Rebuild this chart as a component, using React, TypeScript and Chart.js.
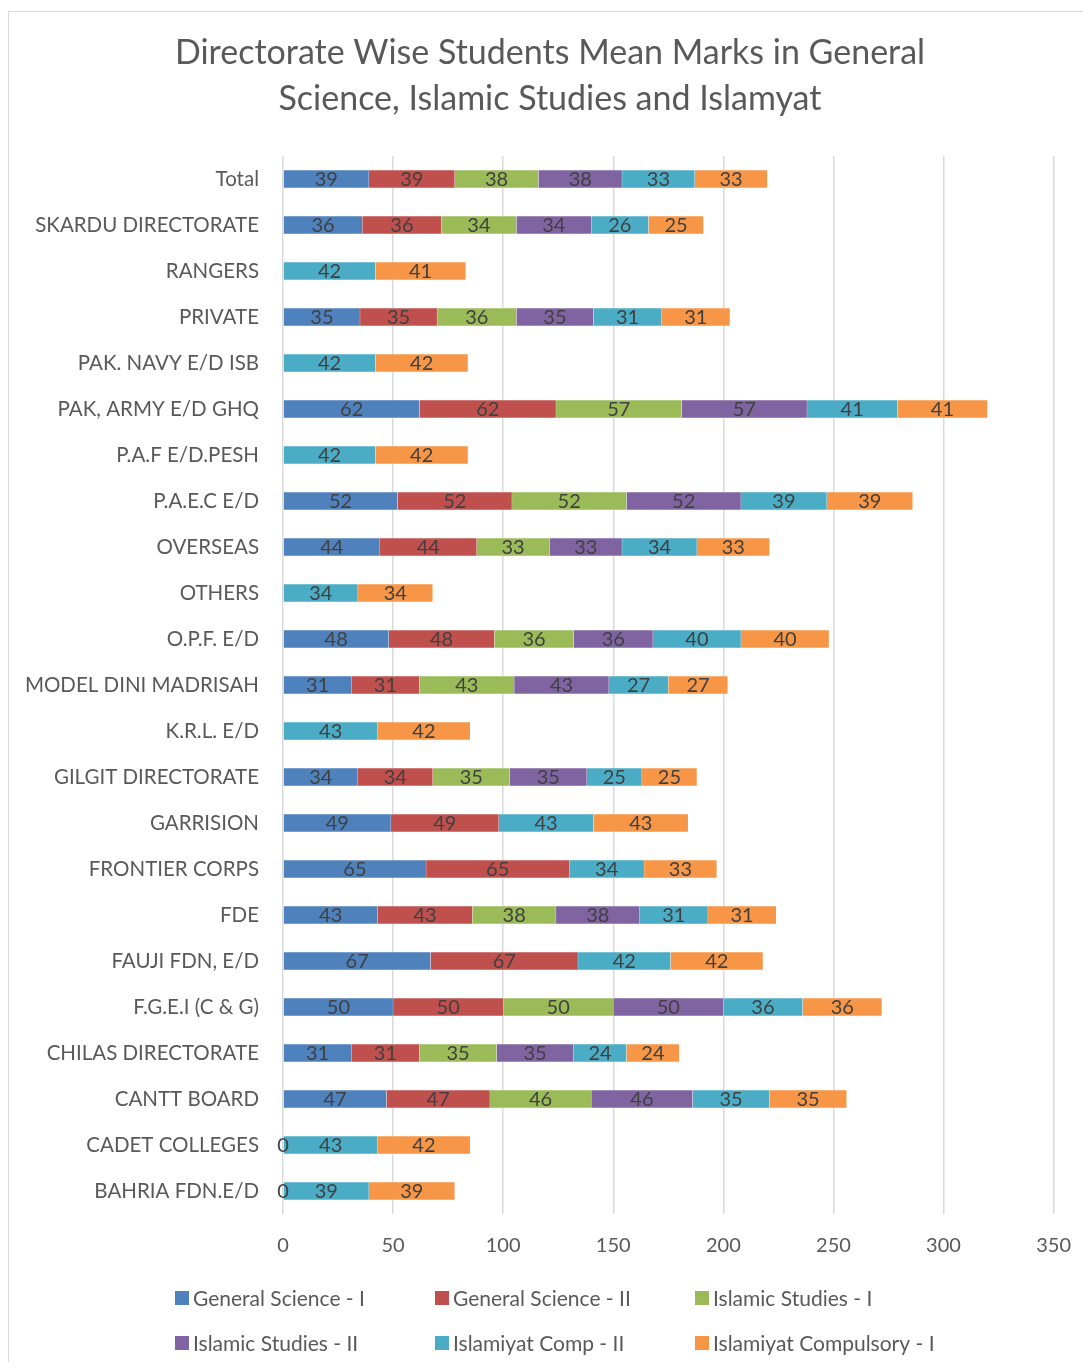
import React, { useEffect, useRef } from "react";
import { Chart, registerables } from "chart.js";
Chart.register(...registerables);

const titleLines = [
  "Directorate Wise Students Mean Marks in General",
  "Science, Islamic Studies and Islamyat",
];

const categories = [
  "Total",
  "SKARDU DIRECTORATE",
  "RANGERS",
  "PRIVATE",
  "PAK. NAVY E/D ISB",
  "PAK, ARMY E/D GHQ",
  "P.A.F E/D.PESH",
  "P.A.E.C E/D",
  "OVERSEAS",
  "OTHERS",
  "O.P.F. E/D",
  "MODEL DINI MADRISAH",
  "K.R.L. E/D",
  "GILGIT DIRECTORATE",
  "GARRISION",
  "FRONTIER CORPS",
  "FDE",
  "FAUJI FDN, E/D",
  "F.G.E.I (C & G)",
  "CHILAS DIRECTORATE",
  "CANTT BOARD",
  "CADET COLLEGES",
  "BAHRIA FDN.E/D",
];

const seriesNames = [
  "General Science - I",
  "General Science - II",
  "Islamic Studies - I",
  "Islamic Studies - II",
  "Islamiyat Comp - II",
  "Islamiyat Compulsory - I",
];

const generalScienceI = [39, 36, null, 35, null, 62, null, 52, 44, null, 48, 31, null, 34, 49, 65, 43, 67, 50, 31, 47, 0, 0];
const generalScienceII = [39, 36, null, 35, null, 62, null, 52, 44, null, 48, 31, null, 34, 49, 65, 43, 67, 50, 31, 47, null, null];
const islamicStudiesI = [38, 34, null, 36, null, 57, null, 52, 33, null, 36, 43, null, 35, null, null, 38, null, 50, 35, 46, null, null];
const islamicStudiesII = [38, 34, null, 35, null, 57, null, 52, 33, null, 36, 43, null, 35, null, null, 38, null, 50, 35, 46, null, null];
const islamiyatCompII = [33, 26, 42, 31, 42, 41, 42, 39, 34, 34, 40, 27, 43, 25, 43, 34, 31, 42, 36, 24, 35, 43, 39];
const islamiyatCompulsoryI = [33, 25, 41, 31, 42, 41, 42, 39, 33, 34, 40, 27, 42, 25, 43, 33, 31, 42, 36, 24, 35, 42, 39];

const seriesColors = ["#4F81BD", "#C0504D", "#9BBB59", "#8064A2", "#4BACC6", "#F79646"];

const xTicksMax = 350;
const xTickStep = 50;

const FONT = "Lato";

const titlePlugin = {
  id: "customTitle",
  afterDraw(chart: any) {
    const ctx = chart.ctx;
    ctx.save();
    ctx.fillStyle = "#595959";
    ctx.font = `34px ${FONT}`;
    ctx.textAlign = "center";
    ctx.textBaseline = "middle";
    const cx = chart.width / 2;
    ctx.fillText(titleLines[0], cx, 41);
    ctx.fillText(titleLines[1], cx, 87);
    ctx.restore();
  },
};

const labelsPlugin = {
  id: "segLabels",
  afterDatasetsDraw(chart: any) {
    const ctx = chart.ctx;
    ctx.save();
    ctx.fillStyle = "#404040";
    ctx.font = `20px ${FONT}`;
    ctx.textAlign = "center";
    ctx.textBaseline = "middle";
    chart.data.datasets.forEach((ds: any, di: number) => {
      const meta = chart.getDatasetMeta(di);
      meta.data.forEach((el: any, i: number) => {
        const v = ds.data[i];
        if (v === null || v === undefined) return;
        const x = (el.x + el.base) / 2;
        ctx.fillText(String(v), x, el.y + 1);
      });
    });
    ctx.restore();
  },
};

const legendPlugin = {
  id: "gridLegend",
  afterDraw(chart: any) {
    const ctx = chart.ctx;
    ctx.save();
    ctx.font = `21px ${FONT}`;
    ctx.textBaseline = "middle";
    ctx.textAlign = "left";
    const colX = [166, 426, 686];
    const rowY = [1286, 1331];
    chart.data.datasets.forEach((ds: any, i: number) => {
      const x = colX[i % 3];
      const y = rowY[Math.floor(i / 3)];
      ctx.fillStyle = ds.backgroundColor;
      ctx.fillRect(x, y - 7, 14, 14);
      ctx.fillStyle = "#595959";
      ctx.fillText(ds.label, x + 18, y + 1);
    });
    ctx.restore();
  },
};

export default function App() {
  const ref = useRef<HTMLCanvasElement>(null);

  useEffect(() => {
    if (!ref.current) return;
    const seriesData = [
      generalScienceI,
      generalScienceII,
      islamicStudiesI,
      islamicStudiesII,
      islamiyatCompII,
      islamiyatCompulsoryI,
    ];
    const chart = new Chart(ref.current, {
      type: "bar",
      data: {
        labels: categories,
        datasets: seriesData.map((d, i) => ({
          label: seriesNames[i],
          data: d,
          backgroundColor: seriesColors[i],
          borderColor: "rgba(255,255,255,0.6)",
          borderWidth: 0.5,
          barThickness: 18,
        })),
      },
      options: {
        indexAxis: "y",
        responsive: false,
        animation: false,
        layout: { padding: { top: 144, right: 35, bottom: 88, left: 0 } },
        plugins: {
          legend: { display: false },
          title: { display: false },
          tooltip: { enabled: false },
        },
        scales: {
          x: {
            stacked: true,
            min: 0,
            max: xTicksMax,
            ticks: {
              stepSize: xTickStep,
              color: "#595959",
              font: { family: FONT, size: 20 },
              padding: 20,
            },
            grid: { color: "#d9d9d9", lineWidth: 1.5, drawTicks: false },
            border: { display: false },
            afterFit(scale: any) {
              scale.height = 60;
            },
          },
          y: {
            stacked: true,
            ticks: {
              color: "#595959",
              font: { family: FONT, size: 20.5 },
              padding: 24,
              autoSkip: false,
            },
            grid: { display: false, drawTicks: false },
            border: { display: false },
            afterFit(scale: any) {
              scale.width = 274;
            },
          },
        },
      },
      plugins: [titlePlugin, labelsPlugin, legendPlugin],
    } as any);
    return () => chart.destroy();
  }, []);

  return (
    <div style={{ paddingTop: 3 }}>
      <div
        style={{
          borderTop: "1px solid #d9d9d9",
          borderLeft: "1px solid #d9d9d9",
          width: 1082,
          height: 1350,
        }}
      >
        <canvas ref={ref} width={1082} height={1350} style={{ display: "block" }} />
      </div>
    </div>
  );
}
